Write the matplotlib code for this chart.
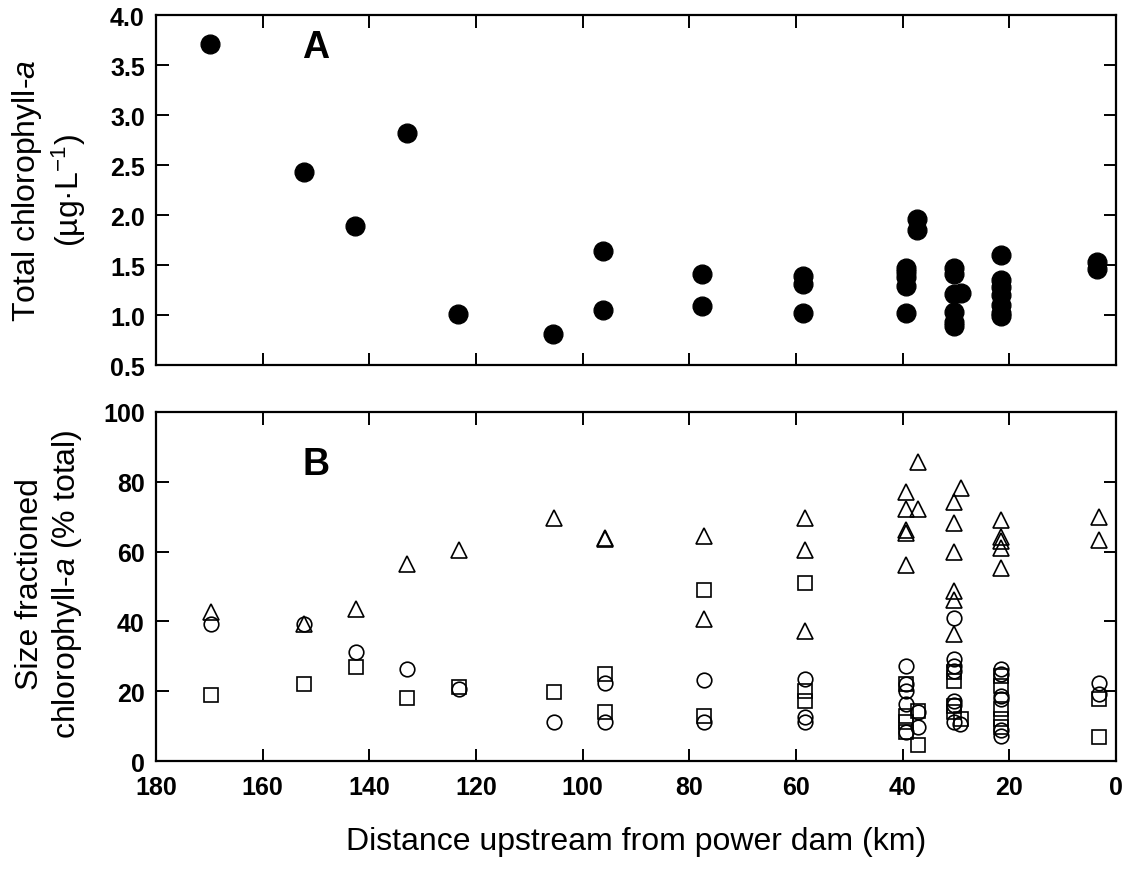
import numpy as np
import matplotlib
matplotlib.use('Agg')
import matplotlib.pyplot as plt

plt.rcParams['font.family'] = ['Liberation Sans', 'DejaVu Sans']
plt.rcParams['mathtext.fontset'] = 'custom'
plt.rcParams['mathtext.rm'] = 'Liberation Sans'
plt.rcParams['mathtext.it'] = 'Liberation Sans:italic'

# panel A - total chlorophyll-a (ug/L)
tot_km = [169.8, 152.3, 142.6, 133.0, 123.4, 105.6, 96.1, 96.1, 77.6, 77.6,
          58.6, 58.6, 58.6, 39.4, 39.4, 39.4, 39.4, 39.4, 37.4, 37.4,
          30.3, 30.3, 30.3, 30.3, 30.3, 30.3, 29.0,
          21.5, 21.5, 21.5, 21.5, 21.5, 21.5, 21.5, 3.5, 3.5]
tot_chl = [3.71, 2.43, 1.89, 2.82, 1.01, 0.81, 1.64, 1.05, 1.41, 1.09,
           1.39, 1.31, 1.02, 1.47, 1.43, 1.38, 1.29, 1.02, 1.96, 1.85,
           1.47, 1.41, 1.21, 1.03, 0.93, 0.89, 1.22,
           1.60, 1.35, 1.28, 1.20, 1.10, 1.02, 0.99, 1.53, 1.46]

# panel B - size fractions (% of total)
tri_km = [169.7, 152.3, 142.5, 133.0, 123.2, 105.4, 95.8, 95.8, 77.2, 77.2,
          58.3, 58.3, 58.3, 39.3, 39.3, 39.3, 39.3, 39.3, 37.2, 37.2,
          30.3, 30.3, 30.3, 30.3, 30.3, 30.3, 29.0,
          21.6, 21.6, 21.6, 21.6, 21.6, 3.2, 3.2]
tri_pct = [42.7, 39.3, 43.6, 56.5, 60.6, 69.5, 64.0, 63.5, 64.5, 40.7,
           69.5, 60.5, 37.3, 77.1, 72.1, 66.2, 65.2, 56.2, 85.7, 72.1,
           74.3, 68.1, 60.0, 48.6, 46.2, 36.3, 78.1,
           69.0, 64.1, 62.9, 61.0, 55.3, 70.0, 63.3]

circ_km = [169.7, 152.3, 142.5, 133.0, 123.2, 105.4, 95.8, 95.8, 77.2, 77.2,
           58.3, 58.3, 58.3, 39.4, 39.4, 39.4, 39.4, 39.4, 37.2, 37.2,
           30.3, 30.3, 30.3, 30.3, 30.3, 30.3, 30.3, 29.3,
           21.6, 21.6, 21.6, 21.6, 21.6, 21.6, 3.2, 3.2]
circ_pct = [39.3, 39.3, 31.2, 26.3, 20.5, 11.3, 22.4, 11.3, 23.2, 11.3,
            23.5, 12.6, 11.3, 27.3, 22.0, 20.1, 16.3, 8.3, 14.0, 9.7,
            41.0, 29.2, 27.3, 25.8, 17.3, 16.0, 11.3, 10.6,
            26.3, 25.0, 18.7, 17.8, 9.0, 7.3, 22.3, 19.2]

sq_km = [169.7, 152.3, 142.5, 133.0, 123.2, 105.4, 95.8, 95.8, 77.2, 77.2,
         58.3, 58.3, 58.3, 39.3, 39.3, 39.3, 39.3, 37.1, 37.1,
         30.3, 30.3, 30.3, 30.3, 29.0,
         21.6, 21.6, 21.6, 21.6, 21.6, 3.2, 3.2]
sq_pct = [19.0, 22.2, 27.0, 18.1, 21.2, 19.9, 25.0, 14.0, 49.0, 13.0,
          51.0, 20.2, 17.3, 22.0, 13.0, 11.1, 8.3, 14.4, 4.5,
          25.4, 23.0, 15.9, 14.0, 12.1,
          24.4, 21.6, 14.9, 12.1, 9.7, 17.9, 6.8]

fig = plt.figure(figsize=(11.3, 8.7), dpi=100)
axA = fig.add_axes([0.138, 0.5793, 0.8496, 0.4023])
axB = fig.add_axes([0.138, 0.1241, 0.8496, 0.4012])

for ax in (axA, axB):
    ax.set_xlim(180, 0)
    ax.set_xticks(np.arange(180, -1, -20))
    for s in ax.spines.values():
        s.set_linewidth(1.6)
    ax.tick_params(direction='in', length=9, width=1.4, top=True, right=True,
                   labelsize=18, pad=8)
    ax.tick_params(axis='x', pad=10)
    for lab in ax.get_xticklabels() + ax.get_yticklabels():
        lab.set_fontweight('bold')

axA.plot(tot_km, tot_chl, 'o', color='black', ms=13.5, ls='none')
axA.set_ylim(0.5, 4.0)
axA.set_yticks(np.arange(0.5, 4.01, 0.5))
axA.set_yticklabels(['%.1f' % v for v in np.arange(0.5, 4.01, 0.5)], fontweight='bold')
axA.tick_params(labelbottom=False)
axA.text(150, 3.68, 'A', fontsize=27, fontweight='bold', ha='center', va='center')

axB.plot(tri_km, tri_pct, '^', mfc='none', mec='black', mew=1.2, ms=12, ls='none')
axB.plot(circ_km, circ_pct, 'o', mfc='none', mec='black', mew=1.2, ms=10.5, ls='none')
axB.plot(sq_km, sq_pct, 's', mfc='none', mec='black', mew=1.2, ms=10, ls='none')
axB.set_ylim(0, 100)
axB.set_yticks(np.arange(0, 101, 20))
axB.text(150, 85, 'B', fontsize=27, fontweight='bold', ha='center', va='center')

fig.text(49 / 1130, 1 - 191 / 870, 'Total chlorophyll-$\\mathit{a}$\n(\u00b5g\u00b7L$^{-1}$)',
         rotation=90, ha='center', va='center', multialignment='center', fontsize=23)
fig.text(49 / 1130, 1 - 584 / 870, 'Size fractioned\nchlorophyll-$\\mathit{a}$ (% total)',
         rotation=90, ha='center', va='center', multialignment='center', fontsize=23)
fig.text(636 / 1130, 1 - 842 / 870, 'Distance upstream from power dam (km)',
         ha='center', va='center', fontsize=23)

fig.savefig('out.png', dpi=100)
